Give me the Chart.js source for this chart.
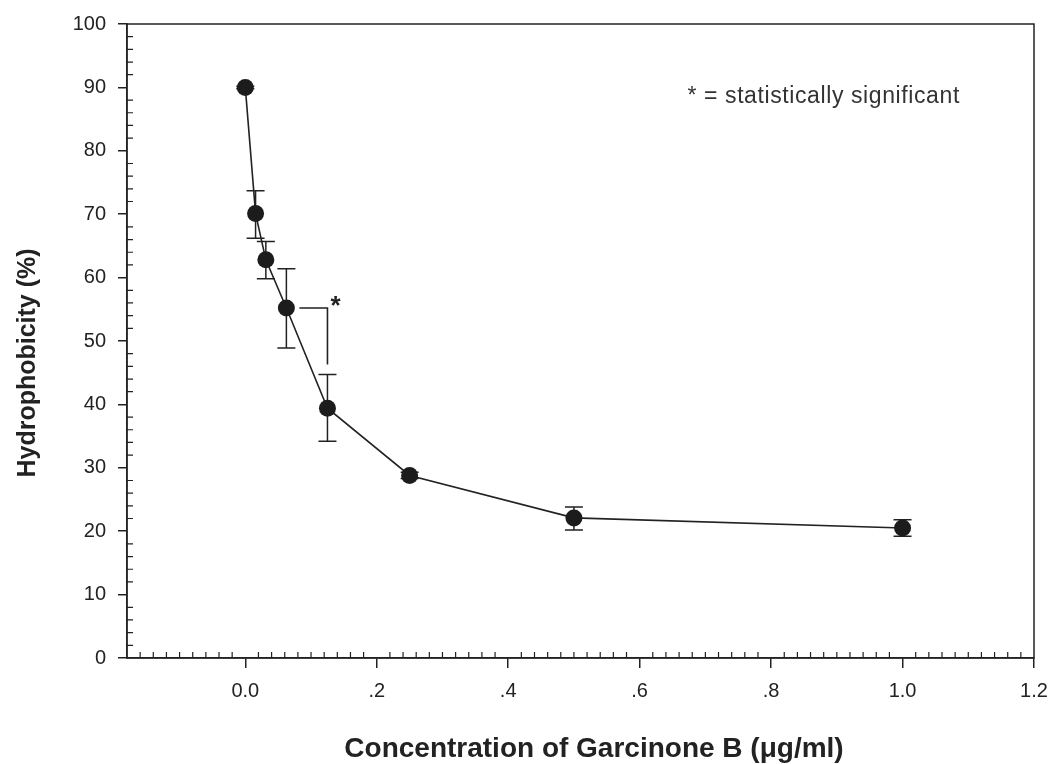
<!DOCTYPE html>
<html>
<head>
<meta charset="utf-8">
<script src="https://cdn.jsdelivr.net/npm/chart.js@4.4.1/dist/chart.umd.min.js"></script>
<style>
  html, body { margin: 0; padding: 0; background: #fff; }
  #wrap { width: 1053px; height: 764px; }
</style>
</head>
<body>
<div id="wrap"><canvas id="chart"></canvas></div>
<script>
// ======================= DATA =======================
const concentration = [0, 0.015625, 0.03125, 0.0625, 0.125, 0.25, 0.5, 1.0];
const hydrophobicity = [90, 70.1, 62.8, 55.2, 39.4, 28.8, 22.1, 20.5];
const errUp   = [0.2, 3.6, 2.9, 6.2, 5.3, 0.5, 1.7, 1.3];
const errDown = [0.2, 3.9, 3.0, 6.3, 5.2, 0.5, 1.9, 1.3];

const xTicks = [0, 0.2, 0.4, 0.6, 0.8, 1.0, 1.2];
const xTickLabels = ["0.0", ".2", ".4", ".6", ".8", "1.0", "1.2"];
const yTicks = [0, 10, 20, 30, 40, 50, 60, 70, 80, 90, 100];
const yTickLabels = ["0", "10", "20", "30", "40", "50", "60", "70", "80", "90", "100"];

const xTitle = 'Concentration of Garcinone B (μg/ml)';
const yTitle = 'Hydrophobicity (%)';

// significance bracket between 0.0625 and 0.125
const sigFrom = 3, sigTo = 4, sigBottom = 46.3;
const noteText = "* = statistically significant";
const notePos = { x: 0.88, y: 88.5 };

const INK = '#222';
const FONT = "'Liberation Sans', Arial, sans-serif";

// ======================= PLUGINS =======================
const framePlugin = {
    id: 'frame',
    afterDraw(chart) {
        const { ctx, chartArea: a, scales: { x, y } } = chart;
        ctx.save();
        ctx.strokeStyle = INK;
        ctx.lineWidth = 1.5;
        ctx.strokeRect(a.left, a.top, a.right - a.left, a.bottom - a.top);

        // minor ticks, pointing inward
        ctx.lineWidth = 1.2;
        ctx.beginPath();
        for (let i = -9; i < 60; i++) {
            if (i % 10 === 0) continue;
            const v = i * 0.02;
            const px = x.getPixelForValue(v);
            if (px < a.left + 1 || px > a.right - 1) continue;
            ctx.moveTo(px, a.bottom);
            ctx.lineTo(px, a.bottom - 6);
        }
        for (let v = 2; v < 100; v += 2) {
            if (v % 10 === 0) continue;
            const py = y.getPixelForValue(v);
            ctx.moveTo(a.left, py);
            ctx.lineTo(a.left + 6, py);
        }
        ctx.stroke();

        // significance bracket
        const x1 = x.getPixelForValue(concentration[sigFrom]) + 13;
        const x2 = x.getPixelForValue(concentration[sigTo]);
        const yTop = y.getPixelForValue(hydrophobicity[sigFrom]);
        const yBot = y.getPixelForValue(sigBottom);
        ctx.lineWidth = 1.6;
        ctx.beginPath();
        ctx.moveTo(x1, yTop);
        ctx.lineTo(x2, yTop);
        ctx.lineTo(x2, yBot);
        ctx.stroke();
        ctx.fillStyle = INK;
        ctx.font = "bold 26px " + FONT;
        ctx.textAlign = 'left';
        ctx.textBaseline = 'middle';
        ctx.fillText('*', x2 + 3, yTop - 1);

        // note
        ctx.fillStyle = '#333';
        ctx.font = "23px " + FONT;
        ctx.letterSpacing = '0.6px';
        ctx.textAlign = 'center';
        ctx.fillText(noteText, x.getPixelForValue(notePos.x), y.getPixelForValue(notePos.y));
        ctx.letterSpacing = '0px';

        // axis titles
        ctx.fillStyle = INK;
        ctx.font = "bold 28px " + FONT;
        ctx.textBaseline = 'alphabetic';
        ctx.fillText(xTitle, 594, 757);

        ctx.translate(28, 363);
        ctx.rotate(-Math.PI / 2);
        ctx.font = "bold 25px " + FONT;
        ctx.textBaseline = 'middle';
        ctx.fillText(yTitle, 0, 0);
        ctx.restore();
    }
};

const errorBarPlugin = {
    id: 'errorBars',
    beforeDatasetsDraw(chart) {
        const { ctx, scales: { x, y } } = chart;
        ctx.save();
        ctx.strokeStyle = INK;
        ctx.lineWidth = 1.5;
        ctx.beginPath();
        concentration.forEach((c, i) => {
            const px = x.getPixelForValue(c);
            const hi = y.getPixelForValue(hydrophobicity[i] + errUp[i]);
            const lo = y.getPixelForValue(hydrophobicity[i] - errDown[i]);
            ctx.moveTo(px, hi); ctx.lineTo(px, lo);
            ctx.moveTo(px - 9, hi); ctx.lineTo(px + 9, hi);
            ctx.moveTo(px - 9, lo); ctx.lineTo(px + 9, lo);
        });
        ctx.stroke();
        ctx.restore();
    }
};

// ======================= CHART =======================
const ctx = document.getElementById('chart').getContext('2d');
new Chart(ctx, {
    type: 'scatter',
    data: {
        datasets: [{
            data: concentration.map((c, i) => ({ x: c, y: hydrophobicity[i] })),
            showLine: true,
            borderColor: INK,
            borderWidth: 1.6,
            pointRadius: 8.5,
            pointBackgroundColor: '#1c1c1c',
            pointBorderColor: '#1c1c1c',
            pointBorderWidth: 0,
            clip: false
        }]
    },
    options: {
        responsive: true,
        maintainAspectRatio: false,
        animation: false,
        layout: { padding: { top: 24, right: 19, left: 0, bottom: 0 } },
        plugins: { legend: { display: false }, tooltip: { enabled: false } },
        scales: {
            x: {
                type: 'linear',
                min: -0.18,
                max: 1.2,
                afterBuildTicks: s => { s.ticks = xTicks.map(v => ({ value: v })); },
                afterFit: s => { s.height = 106; s.paddingLeft = 0; s.paddingRight = 0; },
                ticks: {
                    color: INK,
                    font: { family: FONT, size: 20 },
                    padding: 11,
                    maxRotation: 0,
                    autoSkip: false,
                    callback: v => xTickLabels[xTicks.findIndex(t => Math.abs(t - v) < 1e-9)]
                },
                grid: { drawOnChartArea: false, drawTicks: true, tickLength: 10, color: INK, lineWidth: 1.5 },
                border: { display: true, color: INK, width: 1.5 },
                title: { display: false }
            },
            y: {
                min: 0,
                max: 100,
                afterBuildTicks: s => { s.ticks = yTicks.map(v => ({ value: v })); },
                afterFit: s => { s.width = 127; s.paddingTop = 0; s.paddingBottom = 0; },
                ticks: {
                    color: INK,
                    font: { family: FONT, size: 20 },
                    padding: 12,
                    autoSkip: false,
                    callback: v => yTickLabels[yTicks.indexOf(v)]
                },
                grid: { drawOnChartArea: false, drawTicks: true, tickLength: 9, color: INK, lineWidth: 1.5 },
                border: { display: true, color: INK, width: 1.5 },
                title: { display: false }
            }
        }
    },
    plugins: [errorBarPlugin, framePlugin]
});
</script>
</body>
</html>
